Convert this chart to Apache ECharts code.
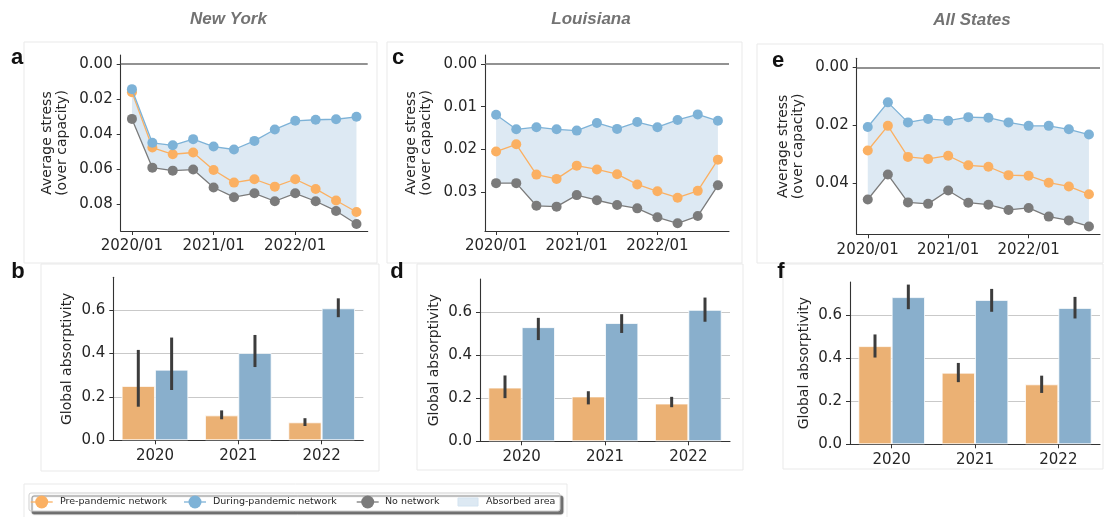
<!DOCTYPE html>
<html>
<head>
<meta charset="utf-8">
<script src="https://cdn.jsdelivr.net/npm/echarts@6/dist/echarts.min.js"></script>
<style>
  html, body { margin: 0; padding: 0; background: #ffffff; }
  #chart { width: 1105px; height: 517px; }
</style>
</head>
<body>
<div id="chart"></div>
<script>
// ---- data -------------------------------------------------------------
const quarters = ['2020/01', '2020/04', '2020/07', '2020/10', '2021/01', '2021/04',
                  '2021/07', '2021/10', '2022/01', '2022/04', '2022/07', '2022/10'];
const dateTickLabels = ['2020/01', '2021/01', '2022/01'];
const years = ['2020', '2021', '2022'];

// Average stress (over capacity), quarterly
const nyPre    = [0.0161, 0.0476, 0.0514, 0.0504, 0.0603, 0.0675, 0.0656, 0.0698, 0.0656, 0.0711, 0.0777, 0.0842];
const nyDuring = [0.0144, 0.0449, 0.0463, 0.0428, 0.0470, 0.0487, 0.0438, 0.0373, 0.0324, 0.0318, 0.0315, 0.0301];
const nyNone   = [0.0313, 0.0590, 0.0607, 0.0601, 0.0703, 0.0758, 0.0736, 0.0781, 0.0736, 0.0781, 0.0836, 0.0910];

const laPre    = [0.0205, 0.0188, 0.0259, 0.0269, 0.0238, 0.0247, 0.0258, 0.0282, 0.0298, 0.0313, 0.0297, 0.0224];
const laDuring = [0.0119, 0.0153, 0.0148, 0.0153, 0.0156, 0.0138, 0.0152, 0.0136, 0.0148, 0.0131, 0.0118, 0.0133];
const laNone   = [0.0279, 0.0279, 0.0332, 0.0334, 0.0307, 0.0319, 0.0330, 0.0338, 0.0359, 0.0373, 0.0356, 0.0284];

const allPre    = [0.0287, 0.0202, 0.0309, 0.0316, 0.0305, 0.0338, 0.0343, 0.0372, 0.0374, 0.0398, 0.0411, 0.0438];
const allDuring = [0.0206, 0.0121, 0.0190, 0.0178, 0.0184, 0.0172, 0.0174, 0.0190, 0.0202, 0.0202, 0.0214, 0.0232];
const allNone   = [0.0456, 0.0370, 0.0466, 0.0471, 0.0425, 0.0467, 0.0474, 0.0492, 0.0485, 0.0515, 0.0528, 0.0549];

const nyStressTicks  = [0, 0.02, 0.04, 0.06, 0.08];
const laStressTicks  = [0, 0.01, 0.02, 0.03];
const allStressTicks = [0, 0.02, 0.04];
const absorbTicks    = [0, 0.2, 0.4, 0.6];

// Global absorptivity per year: mean with lower / upper error bounds
const nyAbsPre      = [0.251, 0.115, 0.083];
const nyAbsPreLo    = [0.155, 0.097, 0.066];
const nyAbsPreHi    = [0.417, 0.138, 0.102];
const nyAbsDuring   = [0.326, 0.403, 0.609];
const nyAbsDuringLo = [0.232, 0.338, 0.568];
const nyAbsDuringHi = [0.474, 0.486, 0.655];

const laAbsPre      = [0.249, 0.208, 0.175];
const laAbsPreLo    = [0.200, 0.171, 0.158];
const laAbsPreHi    = [0.305, 0.232, 0.206];
const laAbsDuring   = [0.529, 0.548, 0.609];
const laAbsDuringLo = [0.469, 0.502, 0.554];
const laAbsDuringHi = [0.572, 0.589, 0.666];

const allAbsPre      = [0.455, 0.332, 0.278];
const allAbsPreLo    = [0.402, 0.288, 0.238];
const allAbsPreHi    = [0.509, 0.377, 0.318];
const allAbsDuring   = [0.682, 0.669, 0.632];
const allAbsDuringLo = [0.626, 0.614, 0.583];
const allAbsDuringHi = [0.740, 0.720, 0.683];

// ---- styling ------------------------------------------------------------
const C = {
  pre: '#fbb062', during: '#7db2d7', none: '#7b7b7b', fill: '#dde9f3',
  barPre: '#ebb174', barDuring: '#89afcc', err: '#3c3c3c',
  axis: '#333333', text: '#262626', grid: '#c9c9c9', zero: '#6e6e6e'
};
const FONT = 'DejaVu Sans';

function monthIndex(q) {
  const [y, m] = q.split('/').map(Number);
  return (y - 2020) * 12 + (m - 1);
}
const dateTickValues = dateTickLabels.map(monthIndex);

const linePanels = [
  { pre: nyPre,  during: nyDuring,  none: nyNone,  ticks: nyStressTicks,  yMin: -0.005,  yMax: 0.095,
    grid: { left: 120.7, top: 55, width: 247, height: 176 } },
  { pre: laPre,  during: laDuring,  none: laNone,  ticks: laStressTicks,  yMin: -0.0021, yMax: 0.0391,
    grid: { left: 485, top: 55, width: 244, height: 176 } },
  { pre: allPre, during: allDuring, none: allNone, ticks: allStressTicks, yMin: -0.0031, yMax: 0.0576,
    grid: { left: 856.7, top: 58.3, width: 243.3, height: 176 } }
];

const barPanels = [
  { pre: nyAbsPre, preLo: nyAbsPreLo, preHi: nyAbsPreHi,
    during: nyAbsDuring, duringLo: nyAbsDuringLo, duringHi: nyAbsDuringHi,
    grid: { left: 113.3, top: 277.3, width: 250, height: 163 } },
  { pre: laAbsPre, preLo: laAbsPreLo, preHi: laAbsPreHi,
    during: laAbsDuring, duringLo: laAbsDuringLo, duringHi: laAbsDuringHi,
    grid: { left: 480, top: 279, width: 250, height: 162.3 } },
  { pre: allAbsPre, preLo: allAbsPreLo, preHi: allAbsPreHi,
    during: allAbsDuring, duringLo: allAbsDuringLo, duringHi: allAbsDuringHi,
    grid: { left: 850, top: 282, width: 250, height: 162.3 } }
];

const axisLine = { show: true, onZero: false, lineStyle: { color: C.axis, width: 1.1 } };
const labelStyle = { color: C.text, fontFamily: FONT, fontSize: 15 };

const grids = [], xAxes = [], yAxes = [], series = [];

// ---- stress line panels ---------------------------------------------------
linePanels.forEach((p, i) => {
  grids.push(Object.assign({ outerBoundsMode: 'none', containLabel: false }, p.grid));
  xAxes.push({
    type: 'value', gridIndex: i, min: -1.65, max: 34.65,
    axisLine,
    axisTick: { show: true, length: 4, customValues: dateTickValues, lineStyle: { color: C.axis } },
    axisLabel: Object.assign({ margin: 8, customValues: dateTickValues,
      formatter: v => dateTickLabels[dateTickValues.indexOf(v)] || '' }, labelStyle),
    splitLine: { show: false }
  });
  yAxes.push({
    type: 'value', gridIndex: i, inverse: true, min: p.yMin, max: p.yMax,
    name: 'Average stress\n(over capacity)', nameLocation: 'middle', nameRotate: 90, nameGap: 51,
    nameTextStyle: { color: C.text, fontFamily: FONT, fontSize: 14, lineHeight: 15 },
    axisLine,
    axisTick: { show: true, length: 4, customValues: p.ticks, lineStyle: { color: C.axis } },
    axisLabel: Object.assign({ margin: 8, customValues: p.ticks, formatter: v => v.toFixed(2) }, labelStyle),
    splitLine: { show: false }
  });
  const pts = arr => quarters.map((q, k) => [monthIndex(q), arr[k]]);
  // shaded band between the during-pandemic and no-network curves
  series.push({
    type: 'custom', name: 'Absorbed area', xAxisIndex: i, yAxisIndex: i, z: 1, silent: true,
    data: quarters.map((q, k) => [monthIndex(q), p.during[k], p.none[k]]),
    encode: { x: 0, y: [1, 2] },
    renderItem(params, api) {
      if (params.dataIndex !== 0) return null;
      const upper = quarters.map((q, k) => api.coord([monthIndex(q), p.during[k]]));
      const lower = quarters.map((q, k) => api.coord([monthIndex(q), p.none[k]])).reverse();
      return {
        type: 'polygon',
        shape: { points: upper.concat(lower) },
        style: { fill: C.fill, stroke: 'none' }
      };
    }
  });
  const line = (name, color, arr, z, extra) => Object.assign({
    type: 'line', name, xAxisIndex: i, yAxisIndex: i, data: pts(arr),
    symbol: 'circle', symbolSize: 10, showSymbol: true,
    lineStyle: { color, width: 1.3 }, itemStyle: { color }, z, silent: true
  }, extra || {});
  series.push(line('No network', C.none, p.none, 3));
  series.push(line('Pre-pandemic network', C.pre, p.pre, 4));
  series.push(line('During-pandemic network', C.during, p.during, 5, {
    markLine: {
      silent: true, symbol: 'none', label: { show: false },
      lineStyle: { color: C.zero, width: 1.5, type: 'solid' },
      data: [{ yAxis: 0 }], z: 2
    }
  }));
});

// ---- absorptivity bar panels ---------------------------------------------
barPanels.forEach((p, j) => {
  const i = j + 3;
  grids.push(Object.assign({ outerBoundsMode: 'none', containLabel: false }, p.grid));
  xAxes.push({
    type: 'category', gridIndex: i, data: years,
    axisLine,
    axisTick: { show: true, length: 4, alignWithLabel: true, lineStyle: { color: C.axis } },
    axisLabel: Object.assign({ margin: 8 }, labelStyle),
    splitLine: { show: false }
  });
  yAxes.push({
    type: 'value', gridIndex: i, min: 0, max: 0.752,
    name: 'Global absorptivity', nameLocation: 'middle', nameRotate: 90, nameGap: 39,
    nameTextStyle: { color: C.text, fontFamily: FONT, fontSize: 14 },
    axisLine,
    axisTick: { show: true, length: 4, customValues: absorbTicks, lineStyle: { color: C.axis } },
    axisLabel: Object.assign({ margin: 8, customValues: absorbTicks, formatter: v => v.toFixed(1) }, labelStyle),
    splitLine: { show: true, lineStyle: { color: C.grid, width: 1 } }
  });
  const bar = (name, color, arr) => ({
    type: 'bar', name, xAxisIndex: i, yAxisIndex: i, data: arr,
    barGap: '0%', barCategoryGap: '20%', silent: true, z: 2,
    itemStyle: { color, borderColor: 'rgba(255,255,255,0.75)', borderWidth: 1 }
  });
  series.push(bar('Pre-pandemic network', C.barPre, p.pre));
  series.push(bar('During-pandemic network', C.barDuring, p.during));
  const errData = years.map((_, k) => [k, p.preLo[k], p.preHi[k], -1])
    .concat(years.map((_, k) => [k, p.duringLo[k], p.duringHi[k], 1]));
  series.push({
    type: 'custom', xAxisIndex: i, yAxisIndex: i, data: errData, z: 5, silent: true,
    encode: { x: 0, y: [1, 2] },
    renderItem(params, api) {
      const lo = api.coord([api.value(0), api.value(1)]);
      const hi = api.coord([api.value(0), api.value(2)]);
      const bw = api.size([1, 0])[0];
      const x = lo[0] + api.value(3) * 0.2 * bw;
      return {
        type: 'line',
        shape: { x1: x, y1: lo[1], x2: x, y2: hi[1] },
        style: { stroke: C.err, lineWidth: 3 }
      };
    }
  });
});

// ---- annotations, panel frames and legend ----------------------------------
const frame = (x, y, w, h) => ({
  type: 'rect', silent: true, z: 0, shape: { x, y, width: w, height: h },
  style: { fill: 'none', stroke: '#e9e9e9', lineWidth: 1 }
});
const txt = (text, x, y, font, fill, align) => ({
  type: 'text', silent: true, z: 100, x, y,
  style: { text, font, fill, align: align || 'center', verticalAlign: 'middle',
           textAlign: align || 'center', textVerticalAlign: 'middle' }
});
const titleFont = 'italic bold 17px "Liberation Sans", Arial, sans-serif';
const letterFont = 'bold 22px "Liberation Sans", Arial, sans-serif';
const legendFont = '9.5px "DejaVu Sans"';

const legendMarker = (cx, color) => [
  { type: 'line', silent: true, z: 101, shape: { x1: cx - 11, y1: 502, x2: cx + 11, y2: 502 },
    style: { stroke: color, lineWidth: 1.3 } },
  { type: 'circle', silent: true, z: 102, shape: { cx, cy: 502, r: 6.5 }, style: { fill: color } }
];

const graphics = [
  frame(24, 42, 353, 221), frame(41, 264, 338, 207),
  frame(387, 42, 355, 221), frame(417, 264, 326, 206),
  frame(757, 44, 346, 219), frame(783, 264, 320, 205),
  frame(24, 484, 543, 40),
  txt('New York', 228.5, 19, titleFont, '#737373'),
  txt('Louisiana', 591, 19, titleFont, '#737373'),
  txt('All States', 972, 20.7, titleFont, '#737373'),
  txt('a', 17, 58, letterFont, '#111'),
  txt('b', 18, 272, letterFont, '#111'),
  txt('c', 398, 58, letterFont, '#111'),
  txt('d', 397, 272, letterFont, '#111'),
  txt('e', 778, 61, letterFont, '#111'),
  txt('f', 781, 272, letterFont, '#111'),
  { type: 'rect', silent: true, z: 100, shape: { x: 29, y: 493, width: 531, height: 18, r: 2 },
    style: { fill: '#ffffff', stroke: '#cfcfcf', lineWidth: 1,
             shadowColor: 'rgba(70,70,70,0.75)', shadowOffsetX: 3, shadowOffsetY: 3, shadowBlur: 1 } },
  ...legendMarker(41.7, C.pre),
  txt('Pre-pandemic network', 60, 502, legendFont, C.text, 'left'),
  ...legendMarker(195, C.during),
  txt('During-pandemic network', 213, 502, legendFont, C.text, 'left'),
  ...legendMarker(367.7, C.none),
  txt('No network', 385, 502, legendFont, C.text, 'left'),
  { type: 'rect', silent: true, z: 101, shape: { x: 458, y: 498, width: 20, height: 8 },
    style: { fill: C.fill, stroke: '#d3e3f0', lineWidth: 1 } },
  txt('Absorbed area', 486, 502, legendFont, C.text, 'left')
];

const chart = echarts.init(document.getElementById('chart'), null, { renderer: 'canvas' });
chart.setOption({
  backgroundColor: '#ffffff',
  animation: false,
  textStyle: { fontFamily: FONT },
  grid: grids,
  xAxis: xAxes,
  yAxis: yAxes,
  series,
  graphic: graphics
});
</script>
</body>
</html>
